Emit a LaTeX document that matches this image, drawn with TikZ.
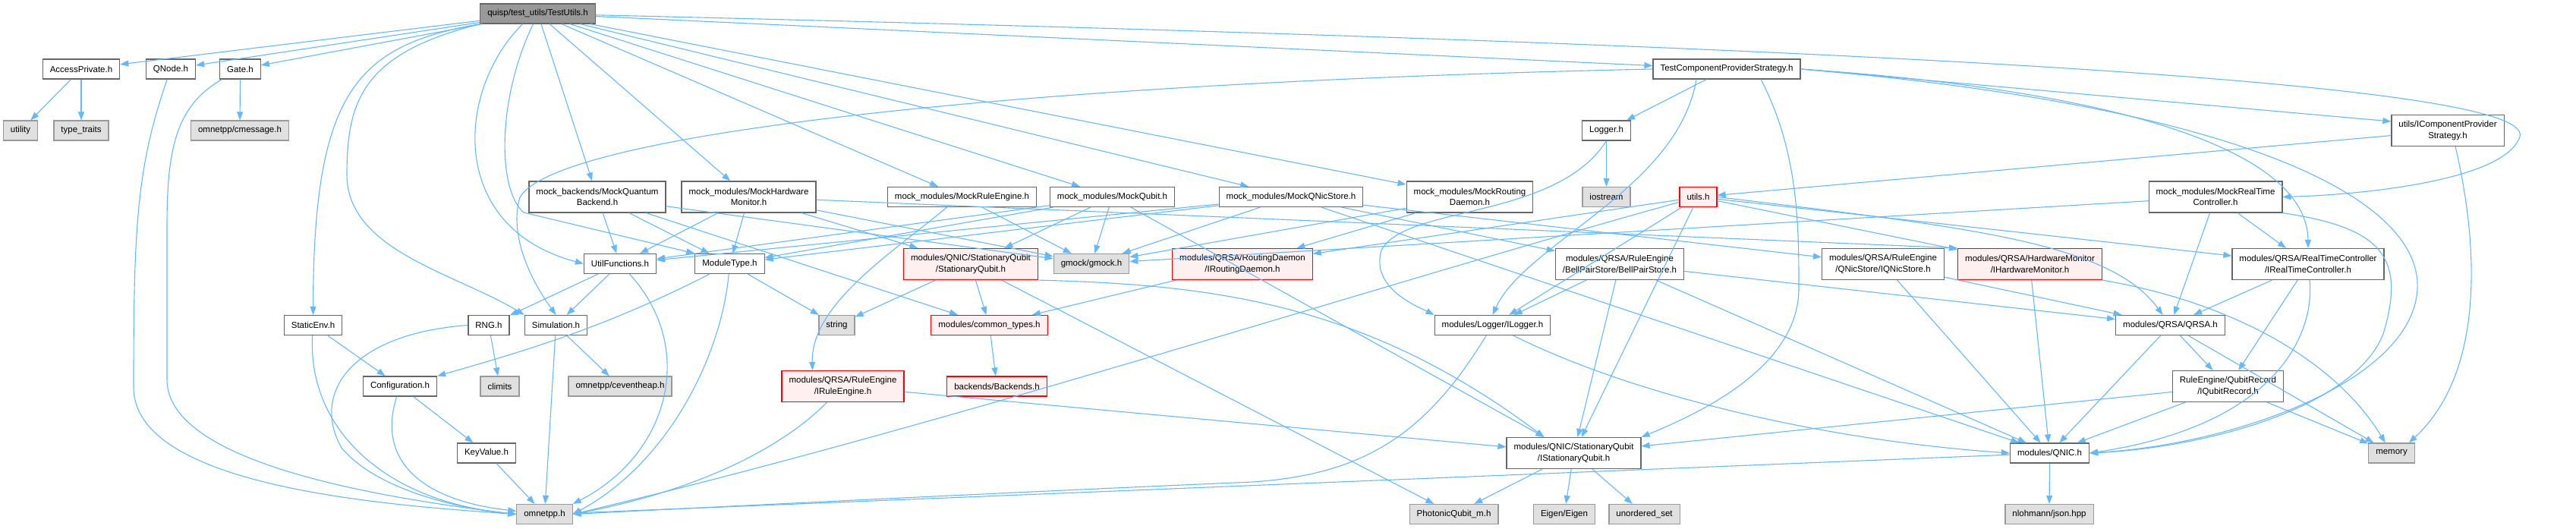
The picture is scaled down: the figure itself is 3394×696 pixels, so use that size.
\documentclass[tikz,border=0pt]{standalone}
\usepackage{fontspec}
\setmainfont{Liberation Sans}
\usepackage{tikz}
\usetikzlibrary{arrows.meta}

\definecolor{edgeblue}{HTML}{63B8FF}
\definecolor{boxgray}{HTML}{666666}
\definecolor{sysgray}{HTML}{999999}
\definecolor{sysfill}{HTML}{E0E0E0}
\definecolor{redfill}{HTML}{FFF0F0}
\definecolor{rootfill}{HTML}{999999}

\begin{document}
\begin{tikzpicture}[x=1pt, y=-1pt,
  file/.style={draw=boxgray, fill=white, line width=1.2pt, font=\fontsize{11.5}{14.5}\selectfont, inner xsep=9.5pt, inner ysep=0pt, minimum height=26pt, align=center},
  two/.style={minimum height=41pt},
  sys/.style={file, draw=sysgray, fill=sysfill},
  trunc/.style={file, draw=red, fill=redfill},
  root/.style={file, draw=boxgray, fill=rootfill},
  dep/.style={draw=edgeblue, line width=1.1pt, -{Triangle[length=11pt,width=8pt]}}
]
\useasboundingbox (0,0) rectangle (3394,696);

% Top file
\node[root] (tu) at (708.5,18) {quisp/test\_utils/TestUtils.h};

% Second row
\node[file] (ap) at (107,91) {AccessPrivate.h};
\node[file] (qn) at (225,91) {QNode.h};
\node[file] (gate) at (316.5,91) {Gate.h};
\node[file] (tcps) at (2275,91) {TestComponentProviderStrategy.h};

\node[sys] (utility) at (27,172) {utility};
\node[sys] (tt) at (107,172) {type\_traits};
\node[sys] (cmsg) at (316,172) {omnetpp/cmessage.h};
\node[file] (logger) at (2116.5,172) {Logger.h};
\node[file,two] (icps) at (3225,172) {utils/IComponentProvider\\Strategy.h};

% Mocks
\node[file,two] (mqb) at (787,259.5) {mock\_backends/MockQuantum\\Backend.h};
\node[file,two] (mhm) at (986.5,259.5) {mock\_modules/MockHardware\\Monitor.h};
\node[file] (mre) at (1267.5,259.5) {mock\_modules/MockRuleEngine.h};
\node[file] (mq) at (1465.5,259.5) {mock\_modules/MockQubit.h};
\node[file] (mqs) at (1701,259.5) {mock\_modules/MockQNicStore.h};
\node[file,two] (mrd) at (1936.5,259.5) {mock\_modules/MockRouting\\Daemon.h};
\node[sys] (ios) at (2116.5,259.5) {iostream};
\node[trunc] (utils) at (2237.5,259.5) {utils.h};
\node[file,two] (mrtc) at (2919,259.5) {mock\_modules/MockRealTime\\Controller.h};

% Interfaces
\node[file] (uf) at (817,347.5) {UtilFunctions.h};
\node[file] (mt) at (961.5,347.5) {ModuleType.h};
\node[trunc,two] (sq) at (1279,348) {modules/QNIC/StationaryQubit\\/StationaryQubit.h};
\node[sys] (gmock) at (1438,347.5) {gmock/gmock.h};
\node[trunc,two] (ird) at (1637,348) {modules/QRSA/RoutingDaemon\\/IRoutingDaemon.h};
\node[file,two] (bps) at (2134,348) {modules/QRSA/RuleEngine\\/BellPairStore/BellPairStore.h};
\node[file,two] (iqs) at (2481,348) {modules/QRSA/RuleEngine\\/QNicStore/IQNicStore.h};
\node[trunc,two] (ihm) at (2674.5,348) {modules/QRSA/HardwareMonitor\\/IHardwareMonitor.h};
\node[file,two] (irtc) at (3041,348) {modules/QRSA/RealTimeController\\/IRealTimeController.h};

\node[file] (se) at (412.5,428.5) {StaticEnv.h};
\node[file] (rng) at (644,428.5) {RNG.h};
\node[file] (sim) at (732.5,428.5) {Simulation.h};
\node[sys] (str) at (1102.5,428.5) {string};
\node[trunc] (ct) at (1303.5,428.5) {modules/common\_types.h};
\node[file] (ilogger) at (1966.5,428.5) {modules/Logger/ILogger.h};
\node[file] (qrsa) at (2859.5,428.5) {modules/QRSA/QRSA.h};

\node[file] (conf) at (527,509) {Configuration.h};
\node[sys] (climits) at (658.5,509) {climits};
\node[sys] (ceh) at (817,509) {omnetpp/ceventheap.h};
\node[trunc,two] (ire) at (1110.5,509) {modules/QRSA/RuleEngine\\/IRuleEngine.h};
\node[trunc] (backends) at (1313.5,509) {backends/Backends.h};
\node[file,two] (iqr) at (2935.5,509) {RuleEngine/QubitRecord\\/IQubitRecord.h};

\node[file] (kv) at (641,597) {KeyValue.h};
\node[file,two] (isq) at (2073.5,597) {modules/QNIC/StationaryQubit\\/IStationaryQubit.h};
\node[file] (qnic) at (2700.5,597) {modules/QNIC.h};
\node[sys] (memory) at (3151,597) {memory};

% System headers
\node[sys] (omnetpp) at (717.5,677.5) {omnetpp.h};
\node[sys] (photonic) at (1915.5,677.5) {PhotonicQubit\_m.h};
\node[sys] (eigen) at (2061,677.5) {Eigen/Eigen};
\node[sys] (uset) at (2166.5,677.5) {unordered\_set};
\node[sys] (json) at (2700,677.5) {nlohmann/json.hpp};

% Arrows from TestUtils.h
\draw[dep] (tu) -- (ap);
\draw[dep] (tu) -- (qn);
\draw[dep] (tu) -- (gate);
\draw[dep] (tu.south west) .. controls (470,60) and (413,120) .. (se);
\draw[dep] (tu.south west) .. controls (480,70) and (457,130) .. (457,230) .. controls (457,330) and (600,360) .. (sim.north west);
\draw[dep] ([xshift=-20]tu.south) .. controls (600,120) and (590,300) .. (uf.west);
\draw[dep] ([xshift=-6]tu.south) .. controls (655,130) and (655,250) .. (690,280) -- (mt.north west);
\draw[dep] (tu) -- (mqb);
\draw[dep] (tu) -- (mhm);
\draw[dep] (tu) -- (mre);
\draw[dep] (tu) -- (mq);
\draw[dep] (tu) -- (mqs);
\draw[dep] (tu) -- (mrd);
\draw[dep] (tu) -- (tcps);
\draw[dep] (tu) .. controls (2500,60) and (3340,110) .. (3320,180) .. controls (3300,240) and (3100,257) .. (mrtc.east);

% TestComponentProviderStrategy.h
\draw[dep] (tcps) -- (logger);
\draw[dep] (tcps.west) .. controls (1300,110) and (730,180) .. (685,260) .. controls (670,310) and (700,370) .. (sim.north);
\draw[dep] ([xshift=-40]tcps.south) .. controls (2210,250) and (2010,320) .. (ilogger.north);
\draw[dep] ([xshift=45]tcps.south) .. controls (2370,200) and (2370,300) .. (2370,380) .. controls (2370,480) and (2250,540) .. (isq.north east);
\draw[dep] (tcps.east) -- ([yshift=12pt]icps.west);
\draw[dep] (tcps.east) .. controls (2800,120) and (3040,200) .. (irtc.north);
\draw[dep] (tcps.east) .. controls (2950,140) and (3190,260) .. (3185,380) .. controls (3180,500) and (2950,585) .. (qnic.east);

% Logger.h and IComponentProviderStrategy.h
\draw[dep] (logger) -- (ios);
\draw[dep] (logger.south) .. controls (2050,290) and (1850,270) .. (1820,330) .. controls (1805,380) and (1870,405) .. (ilogger.north west);
\draw[dep] (icps) -- (utils);
\draw[dep] ([xshift=10]icps.south) .. controls (3265,320) and (3275,490) .. ([xshift=-8]memory.north east);
\draw[dep] (ap) -- (utility);
\draw[dep] (ap) -- (tt);
\draw[dep] (gate) -- (cmsg);

% Mocks
\draw[dep] (mqb) -- (uf);
\draw[dep] (mqb) -- (mt);
\draw[dep] (mqb) -- (gmock);
\draw[dep] (mqb) -- (ct);
\draw[dep] (mhm) -- (uf);
\draw[dep] (mhm) -- (mt);
\draw[dep] (mhm) -- (gmock);
\draw[dep] (mhm) -- (sq);
\draw[dep] (mhm) -- (ihm.north west);
\draw[dep] (mre) -- (gmock);
\draw[dep] ([xshift=-20]mre.south) .. controls (1180,330) and (1068,400) .. ([xshift=-40]ire.north);
\draw[dep] (mq) -- (uf);
\draw[dep] (mq) -- (mt);
\draw[dep] (mq) -- (sq);
\draw[dep] (mq) -- (gmock);
\draw[dep] (mq) -- ([xshift=50]isq.north west);
\draw[dep] (mqs) -- (uf);
\draw[dep] (mqs) -- (mt);
\draw[dep] (mqs) -- (gmock);
\draw[dep] (mqs) -- (bps);
\draw[dep] (mqs) -- (iqs);
\draw[dep] (mqs) -- (qnic);
\draw[dep] (mrd) -- (gmock);
\draw[dep] (mrd) -- (ird);
\draw[dep] (mrtc) -- (gmock);
\draw[dep] (mrtc) -- (irtc);
\draw[dep] (mrtc) -- (qrsa);
\draw[dep] (mrtc.south east) .. controls (3140,300) and (3170,340) .. (3140,440) .. controls (3100,540) and (2900,590) .. (qnic.east);

% utils.h
\draw[dep] (utils) -- (ird);
\draw[dep] (utils) -- (ilogger);
\draw[dep] (utils) -- (isq);
\draw[dep] (utils) -- (ihm);
\draw[dep] (utils) -- (irtc);
\draw[dep] (utils.east) .. controls (2600,300) and (2780,320) .. (qrsa);
\draw[dep] (utils) .. controls (1800,380) and (1250,560) .. (omnetpp.east);

% Middle layer
\draw[dep] (uf) -- (rng);
\draw[dep] (uf) -- (sim);
\draw[dep] (uf) .. controls (920,460) and (880,600) .. (omnetpp.north east);
\draw[dep] (mt) .. controls (800,430) and (700,460) .. (conf.north east);
\draw[dep] (mt) .. controls (950,470) and (880,610) .. (omnetpp.east);
\draw[dep] (mt) -- (str);
\draw[dep] (sq) -- (str);
\draw[dep] (sq) -- (ct);
\draw[dep] (sq) -- (photonic);
\draw[dep] (sq.south east) .. controls (1600,375) and (1800,400) .. ([xshift=50]isq.north west);
\draw[dep] (ird) -- (ct);
\draw[dep] (bps) -- (ilogger);
\draw[dep] (bps) -- (isq);
\draw[dep] (bps) -- (qnic);
\draw[dep] (bps) -- (qrsa);
\draw[dep] (iqs) -- (qnic);
\draw[dep] (iqs) -- (qrsa);
\draw[dep] (ihm) -- (qnic);
\draw[dep] (ihm.south east) .. controls (2950,400) and (3080,480) .. (memory);
\draw[dep] (irtc) -- (qrsa);
\draw[dep] (irtc) -- (iqr);
\draw[dep] (irtc) .. controls (3050,440) and (3000,560) .. (qnic.east);

% Lower layers
\draw[dep] (qn) .. controls (180,220) and (176,300) .. (176,510) .. controls (176,640) and (500,665) .. (omnetpp.west);
\draw[dep] (gate) .. controls (230,140) and (220,200) .. (220,300) -- (220,500) .. controls (220,600) and (450,650) .. (omnetpp.west);
\draw[dep] (se) -- (conf);
\draw[dep] (se) .. controls (405,560) and (500,660) .. (omnetpp.west);
\draw[dep] (rng) -- (climits);
\draw[dep] (rng.west) .. controls (460,440) and (410,520) .. (450,590) .. controls (500,650) and (620,672) .. (omnetpp.west);
\draw[dep] (sim) -- (omnetpp);
\draw[dep] (sim) -- (ceh);
\draw[dep] (ct) -- (backends);
\draw[dep] (ilogger) .. controls (1880,570) and (1800,625) .. (1650,635) .. controls (1300,650) and (900,670) .. (omnetpp.east);
\draw[dep] (ilogger) .. controls (2150,520) and (2400,580) .. (qnic.west);
\draw[dep] (qrsa) -- (qnic);
\draw[dep] (qrsa) -- (iqr);
\draw[dep] (qrsa) -- (memory);
\draw[dep] (conf) -- (kv);
\draw[dep] (conf) .. controls (495,610) and (560,660) .. (omnetpp);
\draw[dep] (ire) .. controls (1020,600) and (900,650) .. (omnetpp.east);
\draw[dep] (ire) -- (isq);
\draw[dep] (iqr) -- (qnic);
\draw[dep] (iqr) -- (memory);
\draw[dep] (iqr) -- (isq);
\draw[dep] (kv) -- (omnetpp);
\draw[dep] (isq) -- (photonic);
\draw[dep] (isq) -- (eigen);
\draw[dep] (isq) -- (uset);
\draw[dep] (qnic) -- (json);
\draw[dep] (qnic) -- (omnetpp);

\end{tikzpicture}
\end{document}
